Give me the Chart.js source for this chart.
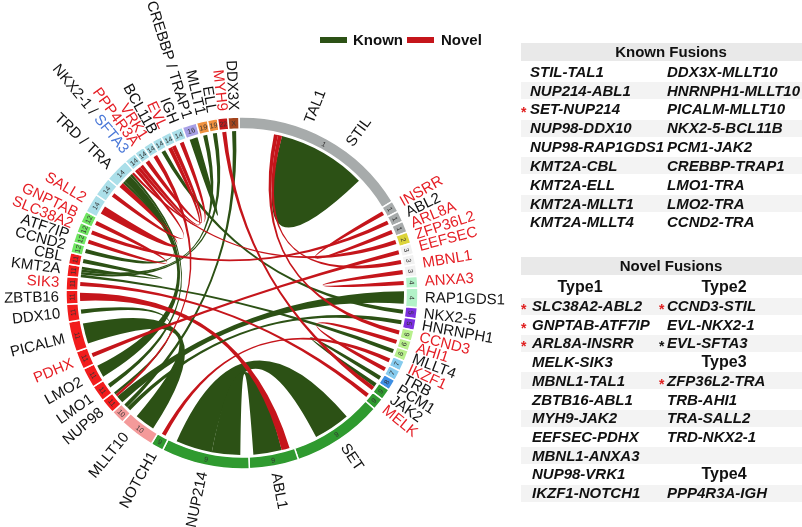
<!DOCTYPE html>
<html>
<head>
<meta charset="utf-8">
<script src="https://cdn.jsdelivr.net/npm/chart.js@4.4.1/dist/chart.umd.min.js"></script>
<style>
  html, body { margin: 0; padding: 0; background: #fff; }
  #wrap { position: relative; width: 802px; height: 527px; overflow: hidden; font-family: "Liberation Sans", Arial, sans-serif; color: #111; }
  #c { position: absolute; left: 0; top: 0; }
  .abs { position: absolute; white-space: nowrap; }
  .band { position: absolute; left: 521px; width: 281px; }
  .cell { position: absolute; white-space: nowrap; font: italic bold 15px "Liberation Sans", Arial, sans-serif; line-height: 18px; height: 18px; }
  .head { position: absolute; white-space: nowrap; font: bold 15px "Liberation Sans", Arial, sans-serif; line-height: 18px; height: 18px; text-align: center; }
  .star { position: absolute; font: bold 14px "Liberation Sans", Arial, sans-serif; line-height: 14px; }
</style>
</head>
<body>
<div id="wrap">
  <canvas id="c" width="802" height="527"></canvas>
  <div id="legend"></div>
  <div id="tables"></div>
</div>
<script>
// ring blocks, clockwise from 12 o'clock
const blockKeys = ["TAL1/STIL", "INSRR", "ABL2", "ARL8A", "ZFP36L2", "EEFSEC", "MBNL1a", "MBNL1b", "ANXA3", "RAP1GDS1",
  "NKX2-5", "HNRNPH1", "CCND3", "AHI1", "MLLT4", "IKZF1", "TRB", "PCM1", "JAK2", "MELK",
  "SET", "ABL1", "NUP214", "NOTCH1", "MLLT10a", "MLLT10b", "NUP98", "LMO1", "LMO2", "PDHX",
  "PICALM", "DDX10", "ZBTB16", "SIK3", "KMT2A", "CBL", "CCND2", "ATF7IP", "SLC38A2", "GNPTAB",
  "SALL2", "TRD", "TRA", "NKX2-1/SFTA3", "PPP4R3A", "VRK1", "BCL11B", "EVL", "IGH", "CREBBP/TRAP1",
  "MLLT1", "ELL", "MYH9", "DDX3X"];
const blockChrom = ["1", "1", "1", "1", "2", "3", "3", "3", "4", "4",
  "5", "5", "6", "6", "6", "7", "7", "8", "9", "9",
  "9", "9", "9", "9", "10", "10", "11", "11", "11", "11",
  "11", "11", "11", "11", "11", "11", "12", "12", "12", "12",
  "14", "14", "14", "14", "14", "14", "14", "14", "14", "16",
  "19", "19", "22", "X"];
// angular share of each block (degrees)
const blockSpan = [59.6, 3.8, 3.6, 3.7, 3.9, 3.6, 3.5, 3.8, 3.9, 6.4,
  3.7, 3.8, 3.6, 3.3, 3.6, 3.5, 3.5, 3.6, 3.8, 4.0,
  30.1, 16.3, 29.2, 4.2, 11.8, 4.6, 5.0, 5.4, 6.6, 6.1,
  10.0, 5.8, 4.7, 4.4, 4.1, 3.8, 3.5, 3.4, 3.5, 3.9,
  6.4, 6.5, 8.0, 4.0, 3.5, 3.3, 3.3, 3.5, 4.1, 4.8,
  3.7, 3.3, 3.4, 3.6];

const chromColors = {
  "1": "#a7abab", "2": "#dcd43a", "3": "#f1f1f1", "4": "#b2f2c8", "5": "#7b30de",
  "6": "#b8f08c", "7": "#86cbee", "8": "#3d8fe3", "9": "#2f9a2f", "10": "#f49a9a",
  "11": "#f21c1c", "12": "#70e662", "14": "#abdfe9", "16": "#a8a0e6", "19": "#f0913f",
  "22": "#c41a1a", "X": "#a3441c"
};

// fusions (sample counts give chord widths)
const knownPairs = [["STIL", "TAL1"], ["NUP214", "ABL1"], ["SET", "NUP214"], ["NUP98", "DDX10"], ["NUP98", "RAP1GDS1"],
  ["KMT2A", "CBL"], ["KMT2A", "ELL"], ["KMT2A", "MLLT1"], ["KMT2A", "MLLT4"],
  ["DDX3X", "MLLT10"], ["HNRNPH1", "MLLT10"], ["PICALM", "MLLT10"], ["NKX2-5", "BCL11B"], ["PCM1", "JAK2"],
  ["CREBBP", "TRAP1"], ["LMO1", "TRA"], ["LMO2", "TRA"], ["CCND2", "TRA"]];
const knownCounts = [11, 7, 9, 1, 3, 1, 1, 1, 1, 1, 1, 5, 1, 1, 1, 1, 3, 1];

const novelType1 = [["SLC38A2", "ABL2"], ["GNPTAB", "ATF7IP"], ["ARL8A", "INSRR"], ["MELK", "SIK3"], ["MBNL1", "TAL1"],
  ["ZBTB16", "ABL1"], ["MYH9", "JAK2"], ["EEFSEC", "PDHX"], ["MBNL1", "ANXA3"], ["NUP98", "VRK1"], ["IKZF1", "NOTCH1"]];
const novelType1Counts = [1, 1, 1, 1, 1, 2, 1, 1, 1, 1, 1];
const novelType2 = [["CCND3", "STIL"], ["EVL", "NKX2-1"], ["EVL", "SFTA3"]];
const novelType2Counts = [1, 1, 1];
const novelType3 = [["ZFP36L2", "TRA"], ["TRB", "AHI1"], ["TRA", "SALL2"], ["TRD", "NKX2-1"]];
const novelType3Counts = [1, 1, 2, 1];
const novelType4 = [["PPP4R3A", "IGH"]];
const novelType4Counts = [1];

const starredRed = ["SET-NUP214", "SLC38A2-ABL2", "GNPTAB-ATF7IP", "ARL8A-INSRR", "CCND3-STIL", "ZFP36L2-TRA"];
const starredBlack = ["EVL-SFTA3"];

// genes sharing a block, and genes split over two blocks (by partner)
const geneHome = { "TAL1": "TAL1/STIL", "STIL": "TAL1/STIL", "NKX2-1": "NKX2-1/SFTA3", "SFTA3": "NKX2-1/SFTA3",
  "CREBBP": "CREBBP/TRAP1", "TRAP1": "CREBBP/TRAP1" };
const splitGene = {
  "MBNL1": { "TAL1": "MBNL1a", "ANXA3": "MBNL1b" },
  "MLLT10": { "PICALM": "MLLT10a", "DDX3X": "MLLT10b", "HNRNPH1": "MLLT10b" }
};

// gene labels around the ring
const ringLabels = [["TAL1"], ["STIL"], ["INSRR"], ["ABL2"], ["ARL8A"], ["ZFP36L2"], ["EEFSEC"], ["MBNL1"], ["ANXA3"], ["RAP1GDS1"],
  ["NKX2-5"], ["HNRNPH1"], ["CCND3"], ["AHI1"], ["MLLT4"], ["IKZF1"], ["TRB"], ["PCM1"], ["JAK2"], ["MELK"],
  ["SET"], ["ABL1"], ["NUP214"], ["NOTCH1"], ["MLLT10"], ["NUP98"], ["LMO1"], ["LMO2"], ["PDHX"], ["PICALM"],
  ["DDX10"], ["ZBTB16"], ["SIK3"], ["KMT2A"], ["CBL"], ["CCND2"], ["ATF7IP"], ["SLC38A2"], ["GNPTAB"], ["SALL2"],
  ["TRD", "TRA"], ["NKX2-1", "SFTA3"], ["PPP4R3A"], ["VRK1"], ["BCL11B"], ["EVL"], ["IGH"], ["CREBBP", "TRAP1"],
  ["MLLT1"], ["ELL"], ["MYH9"], ["DDX3X"]];
const novelGenes = ["INSRR", "ARL8A", "ZFP36L2", "EEFSEC", "MBNL1", "ANXA3", "CCND3", "AHI1", "IKZF1", "MELK",
  "PDHX", "SIK3", "SLC38A2", "GNPTAB", "SALL2", "PPP4R3A", "VRK1", "EVL", "MYH9"];
const blueGenes = ["SFTA3"];

const KNOWN = "#2c5115", NOVEL = "#c5151b";
const LABEL_RED = "#e51e25", LABEL_BLUE = "#4a78d8";
const DEG = Math.PI / 180, TAU = Math.PI * 2;
const UNIT = 1.45 * DEG;

const fusions = [];
knownPairs.forEach((p, i) => fusions.push({ pair: p, count: knownCounts[i], color: KNOWN }));
[[novelType1, novelType1Counts], [novelType2, novelType2Counts], [novelType3, novelType3Counts], [novelType4, novelType4Counts]]
  .forEach(([pairs, counts]) => pairs.forEach((p, i) => fusions.push({ pair: p, count: counts[i], color: NOVEL })));

const chordPlugin = {
  id: "chords",
  afterDatasetsDraw(chart) {
    const ctx = chart.ctx;
    const arcs = chart.getDatasetMeta(0).data;
    const cx = arcs[0].x, cy = arcs[0].y;
    const rIn = arcs[0].innerRadius, rOut = arcs[0].outerRadius;
    const idx = k => blockKeys.indexOf(k);
    const mid = i => (arcs[i].startAngle + arcs[i].endAngle) / 2;
    const blockOf = (g, partner) => {
      if (splitGene[g]) return idx(splitGene[g][partner]);
      if (geneHome[g]) return idx(geneHome[g]);
      return idx(g);
    };

    const links = fusions.map(f => {
      const [a, b] = f.pair;
      return { color: f.color, w: f.count * UNIT, ends: [{ gene: a, blk: blockOf(a, b) }, { gene: b, blk: blockOf(b, a) }] };
    });
    const perBlock = arcs.map(() => []);
    links.forEach(l => l.ends.forEach((e, k) => {
      const o = l.ends[1 - k];
      e.link = l;
      if (e.blk === o.blk) e.d = k === 1 ? -1 : -2;
      else e.d = (((mid(o.blk) - mid(e.blk)) % TAU) + TAU) % TAU;
      perBlock[e.blk].push(e);
    }));
    perBlock.forEach((list, i) => {
      if (!list.length) return;
      list.sort((p, q) => q.d - p.d);
      const span = arcs[i].endAngle - arcs[i].startAngle;
      const total = list.reduce((s, e) => s + e.link.w, 0);
      const fit = Math.min(1, span * 0.9 / total);
      let a = mid(i) - total * fit / 2;
      list.forEach(e => { e.a0 = a; a += e.link.w * fit; e.a1 = a; });
    });

    // chords
    const r = rIn - 2;
    const pt = t => [cx + r * Math.cos(t), cy + r * Math.sin(t)];
    ctx.save();
    links.slice().sort((p, q) => q.w - p.w).forEach(l => {
      const [A, B] = l.ends;
      ctx.beginPath();
      ctx.moveTo(...pt(A.a0));
      ctx.arc(cx, cy, r, A.a0, A.a1);
      ctx.quadraticCurveTo(cx, cy, ...pt(B.a0));
      ctx.arc(cx, cy, r, B.a0, B.a1);
      ctx.quadraticCurveTo(cx, cy, ...pt(A.a0));
      ctx.closePath();
      ctx.fillStyle = l.color;
      ctx.fill();
    });

    // chromosome numbers inside the ring
    ctx.font = "7px 'Liberation Sans', Arial, sans-serif";
    ctx.textAlign = "center";
    ctx.textBaseline = "middle";
    ctx.fillStyle = "#333";
    arcs.forEach((arc, i) => {
      const t = mid(i), rm = (rIn + rOut) / 2;
      ctx.save();
      ctx.translate(cx + rm * Math.cos(t), cy + rm * Math.sin(t));
      ctx.rotate(Math.sin(t) > 0.2 ? t - Math.PI / 2 : t + Math.PI / 2);
      ctx.fillText(blockChrom[i], 0, 0.5);
      ctx.restore();
    });

    // gene labels
    ctx.font = "15px 'Liberation Sans', Arial, sans-serif";
    ctx.textBaseline = "middle";
    ctx.textAlign = "left";
    const R = rOut + 7;
    ringLabels.forEach(genes => {
      let s = 0, ws = 0;
      links.forEach(l => l.ends.forEach(e => {
        if (genes.includes(e.gene)) { s += (e.a0 + e.a1) / 2 * l.w; ws += l.w; }
      }));
      if (!ws) return;
      const t = s / ws;
      const parts = [];
      genes.forEach((g, k) => {
        if (k) parts.push([" / ", "#111"]);
        parts.push([g, blueGenes.includes(g) ? LABEL_BLUE : novelGenes.includes(g) ? LABEL_RED : "#111"]);
      });
      const width = parts.reduce((w, p) => w + ctx.measureText(p[0]).width, 0);
      ctx.save();
      ctx.translate(cx, cy);
      let x;
      if (Math.cos(t) >= 0) { ctx.rotate(t); x = R; }
      else { ctx.rotate(t + Math.PI); x = -R - width; }
      parts.forEach(([txt, col]) => {
        ctx.fillStyle = col;
        ctx.fillText(txt, x, 0);
        x += ctx.measureText(txt).width;
      });
      ctx.restore();
    });
    ctx.restore();
  }
};

new Chart(document.getElementById("c"), {
  type: "doughnut",
  data: {
    labels: blockKeys,
    datasets: [{
      data: blockSpan,
      backgroundColor: blockChrom.map(c => chromColors[c]),
      borderColor: "#fff",
      borderWidth: 1.5,
      hoverOffset: 0
    }]
  },
  options: {
    responsive: false,
    animation: false,
    rotation: -1,
    radius: 176,
    cutout: "93.2%",
    layout: { padding: { left: 0, right: 318, top: 59, bottom: 0 } },
    plugins: { legend: { display: false }, tooltip: { enabled: false } }
  },
  plugins: [chordPlugin]
});

// legend
const legend = document.getElementById("legend");
legend.innerHTML =
  `<div class="abs" style="left:320px;top:37px;width:27px;height:6px;background:${KNOWN}"></div>` +
  `<div class="abs" style="left:353px;top:31px;font:bold 15px 'Liberation Sans',Arial,sans-serif;line-height:18px">Known</div>` +
  `<div class="abs" style="left:407px;top:37px;width:27px;height:6px;background:${NOVEL}"></div>` +
  `<div class="abs" style="left:441px;top:31px;font:bold 15px 'Liberation Sans',Arial,sans-serif;line-height:18px">Novel</div>`;

// fusion tables
const tables = document.getElementById("tables");
let html = "";
const fname = p => p[0] + "-" + p[1];
const star = (name, x, yc) => {
  if (starredRed.includes(name)) return `<div class="star" style="left:${x}px;top:${yc - 4}px;color:#e02020">*</div>`;
  if (starredBlack.includes(name)) return `<div class="star" style="left:${x}px;top:${yc - 4}px;color:#111">*</div>`;
  return "";
};
const cell = (txt, x, yc) => `<div class="cell" style="left:${x}px;top:${yc - 9}px">${txt}</div>`;
const head = (txt, xc, yc, size) => `<div class="head" style="left:${xc - 80}px;width:160px;top:${yc - 9}px;font-size:${size}px">${txt}</div>`;

html += `<div class="band" style="top:43px;height:18px;background:#e9e9e9"></div>`;
html += head("Known Fusions", 671, 52, 15);
const half = Math.ceil(knownPairs.length / 2);
for (let i = 0; i < half; i++) {
  const yc = 71.7 + i * 18.83;
  if (i % 2 === 1) html += `<div class="band" style="top:${yc - 8.5}px;height:17px;background:#f3f3f3"></div>`;
  const a = knownPairs[i], b = knownPairs[i + half];
  html += star(fname(a), 521, yc) + cell(fname(a), 530, yc);
  if (b) html += star(fname(b), 659, yc) + cell(fname(b), 667, yc);
}

html += `<div class="band" style="top:257px;height:18px;background:#e9e9e9"></div>`;
html += head("Novel Fusions", 671, 266, 15);
html += head("Type1", 580, 287, 16) + head("Type2", 724, 287, 16);
const col2 = [];
novelType2.forEach(p => col2.push(["f", p]));
col2.push(["h", "Type3"]);
novelType3.forEach(p => col2.push(["f", p]));
col2.push(["e"]);
col2.push(["h", "Type4"]);
novelType4.forEach(p => col2.push(["f", p]));
const nRows = Math.max(novelType1.length, col2.length);
for (let i = 0; i < nRows; i++) {
  const yc = 306 + i * 18.7;
  if (i % 2 === 0) html += `<div class="band" style="top:${yc - 8.5}px;height:17px;background:#f3f3f3"></div>`;
  const a = novelType1[i];
  if (a) html += star(fname(a), 521, yc) + cell(fname(a), 532, yc);
  const c = col2[i];
  if (c && c[0] === "f") html += star(fname(c[1]), 659, yc) + cell(fname(c[1]), 667, yc);
  if (c && c[0] === "h") html += head(c[1], 724, yc, 16);
}
tables.innerHTML = html;
</script>
</body>
</html>
